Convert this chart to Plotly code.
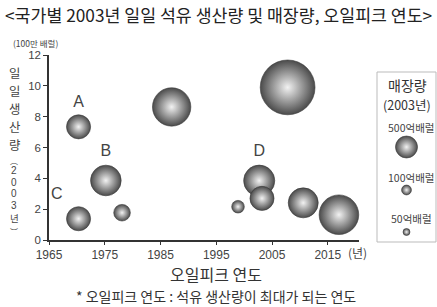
import plotly.graph_objects as go

# ---- data ----
peak_year = [1970.3, 1975.2, 1970.3, 1978.1, 1987.0, 2007.8, 2002.7, 2003.2, 1998.9, 2010.6, 2017.0]
daily_prod = [7.34, 3.86, 1.38, 1.77, 8.63, 9.9, 3.85, 2.7, 2.16, 2.41, 1.64]
reserves = [600, 970, 600, 286, 1520, 3100, 1000, 600, 165, 930, 1620]   # 억 배럴
labels = ["A", "B", "C", "", "", "", "D", "", "", "", ""]
label_pos = ["top center", "top center", "top left", "top center", "top center", "top center",
             "top center", "top center", "top center", "top center", "top center"]

legend_values = [500, 100, 50]
legend_names = ["500억배럴", "100억배럴", "50억배럴"]

x_ticks = [1965, 1975, 1985, 1995, 2005, 2015]
y_ticks = [0, 2, 4, 6, 8, 10, 12]

# ---- layout helpers ----
W, H = 437, 307
L, R, T, B = 49, 1, 55, 67
PW, PH = W - L - R, H - T - B


def px(x):
    return (x - L) / PW


def py(y):
    return (H - B - y) / PH


SIZEREF = 500 / (2 * 11 ** 2)
FONT = "Arial, 'Liberation Sans', 'Noto Sans CJK KR', sans-serif"
KFONT = "'Noto Sans CJK KR', sans-serif"

marker_style = dict(
    color="#4a4a4a",
    sizemode="area",
    sizeref=SIZEREF,
    gradient=dict(type="radial", color="#f2f2f2"),
    line=dict(color="#3a3a3a", width=0.6),
    opacity=1,
)

fig = go.Figure()
fig.add_trace(go.Scatter(
    x=peak_year, y=daily_prod, mode="markers+text",
    text=labels, textposition=label_pos,
    textfont=dict(family=FONT, size=16, color="#444"),
    marker=dict(size=reserves, **marker_style),
    cliponaxis=False, showlegend=False, hoverinfo="skip",
))

# legend bubbles on a helper axis
fig.add_trace(go.Scatter(
    x=[0.5, 0.5, 0.5], y=[147, 190, 232], mode="markers",
    marker=dict(size=legend_values, **marker_style),
    xaxis="x2", yaxis="y2", cliponaxis=False, showlegend=False, hoverinfo="skip",
))

fig.update_layout(
    width=W, height=H,
    margin=dict(l=L, r=R, t=T, b=B),
    paper_bgcolor="white", plot_bgcolor="white",
    font=dict(family=FONT, color="#333"),
    xaxis=dict(
        domain=[0, px(359)], range=[1965, 2020.6],
        tickvals=x_ticks, ticktext=[str(v) for v in x_ticks],
        showgrid=False, zeroline=False, showline=True,
        linecolor="#333", linewidth=1.5,
        ticks="outside", ticklen=3, tickcolor="#333",
        tickfont=dict(family=FONT, size=12, color="#444"),
    ),
    yaxis=dict(
        range=[0, 12], tickvals=y_ticks,
        showgrid=False, zeroline=False, showline=True,
        linecolor="#333", linewidth=1.5,
        ticks="outside", ticklen=4, tickcolor="#333",
        tickfont=dict(family=FONT, size=11.5, color="#444"),
    ),
    xaxis2=dict(domain=[px(377), px(436)], range=[0, 1], visible=False, anchor="y2"),
    yaxis2=dict(domain=[0, 1], range=[240, 55], visible=False, anchor="x2"),
)

ann = []


def add_text(text, x, y, size, color="#333", xanchor="center", family=KFONT):
    ann.append(dict(text=text, x=px(x), y=py(y), xref="paper", yref="paper",
                    xanchor=xanchor, yanchor="middle", showarrow=False, borderpad=0,
                    font=dict(family=family, size=size, color=color)))


add_text("&lt;국가별 2003년 일일 석유 생산량 및 매장량, 오일피크 연도&gt;", 218, 14, 17.3, "#222")
add_text("(100만 배럴)", 12, 43, 8.5, "#444", xanchor="left")

# vertical y-axis title, stacked characters
for ch, yy in zip(["일", "일", "생", "산", "량"], [73, 91, 109, 127, 145]):
    add_text(ch, 14, yy, 12.4, "#444")
for ch, yy, sz, fam in [("︵", 160, 8, KFONT), ("2", 170.5, 10, FONT), ("0", 182, 10, FONT),
                        ("0", 193.5, 10, FONT), ("3", 205, 10, FONT), ("년", 218, 9.5, KFONT),
                        ("︶", 231, 8, KFONT)]:
    add_text(ch, 14, yy, sz, "#444", family=fam)

add_text("(년)", 357, 252, 12, "#444")
add_text("오일피크 연도", 216, 273.5, 16, "#333")
add_text("* 오일피크 연도 : 석유 생산량이 최대가 되는 연도", 216, 295.5, 14, "#333")

add_text("매장량", 407, 85, 14, "#333")
add_text("(2003년)", 407, 104.5, 12.5, "#333")
for name, yy in zip(legend_names, [127, 177, 218]):
    add_text(name, 411, yy, 10.5, "#444")

fig.update_layout(annotations=ann)
fig.add_shape(type="rect", xref="paper", yref="paper",
              x0=px(377), x1=px(436), y0=py(72), y1=py(242),
              line=dict(color="#bbbbbb", width=1), fillcolor="rgba(0,0,0,0)")

fig.write_html("out.html", config={"displayModeBar": False},
               post_script="document.body.style.margin='0';document.body.style.padding='0';")
